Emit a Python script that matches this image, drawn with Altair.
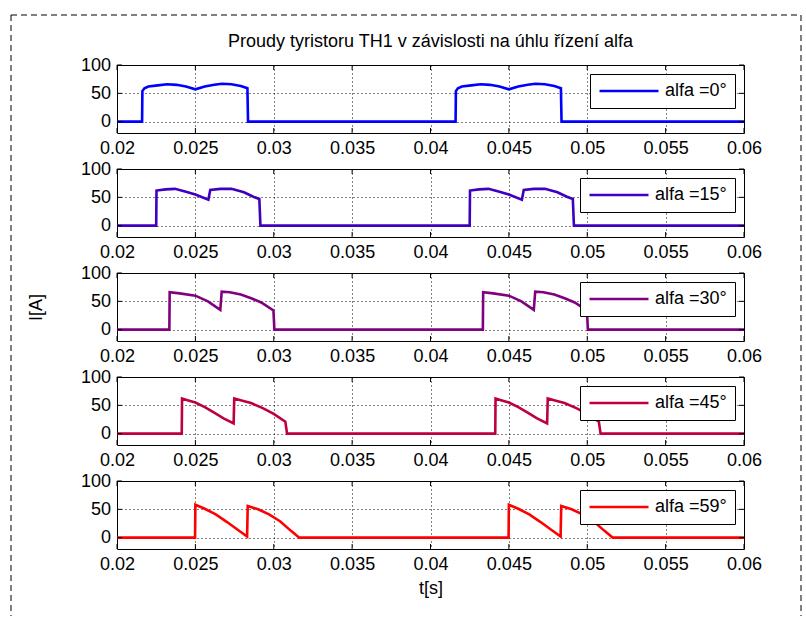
import altair as alt
import pandas as pd

FONT = "Liberation Sans"
TITLE = "Proudy tyristoru TH1 v závislosti na úhlu řízení alfa"
X_TICKS = [0.02, 0.025, 0.03, 0.035, 0.04, 0.045, 0.05, 0.055, 0.06]
Y_TICKS = [0, 50, 100]
ALFAS = [0, 15, 30, 45, 59]
COLORS = ["#0000ff", "#4000bf", "#800080", "#bf0040", "#ff0000"]

# alfa = 0
t_a0 = [0.02, 0.0216, 0.02162, 0.02175, 0.0220, 0.0226, 0.0232, 0.0238, 0.0244, 0.0250,
        0.0256, 0.0262, 0.0267, 0.0273, 0.0279, 0.02832, 0.02836,
        0.0416, 0.04162, 0.04175, 0.0420, 0.0426, 0.0432, 0.0438, 0.0444, 0.0450,
        0.0456, 0.0462, 0.0467, 0.0473, 0.0479, 0.04832, 0.04836, 0.06]
i_a0 = [0, 0, 54, 59, 62, 64, 66, 65, 62, 57, 62, 65, 67, 66, 63, 59, 0,
        0, 54, 59, 62, 64, 66, 65, 62, 57, 62, 65, 67, 66, 63, 59, 0, 0]
# alfa = 15
t_a15 = [0.02, 0.0225, 0.02252, 0.0231, 0.0237, 0.0244, 0.0250, 0.02583, 0.02595, 0.0266,
         0.0273, 0.0281, 0.0287, 0.02908, 0.02915,
         0.0425, 0.04252, 0.0431, 0.0437, 0.0444, 0.0450, 0.04583, 0.04595, 0.0466,
         0.0473, 0.0481, 0.0487, 0.04908, 0.04915, 0.06]
i_a15 = [0, 0, 62, 64, 65, 60, 55, 46, 63, 65, 65, 59, 51, 47, 0,
         0, 62, 64, 65, 60, 55, 46, 63, 65, 65, 59, 51, 47, 0, 0]
# alfa = 30
t_a30 = [0.02, 0.02334, 0.02336, 0.0240, 0.0250, 0.0258, 0.02659, 0.02668, 0.0272, 0.0279,
         0.0286, 0.0292, 0.02998, 0.03004,
         0.04334, 0.04336, 0.0440, 0.0450, 0.0458, 0.04659, 0.04668, 0.0472, 0.0479,
         0.0486, 0.0492, 0.04998, 0.05004, 0.06]
i_a30 = [0, 0, 66, 64, 60, 50, 35, 67, 66, 62, 55, 48, 34, 0,
         0, 66, 64, 60, 50, 35, 67, 66, 62, 55, 48, 34, 0, 0]
# alfa = 45
t_a45 = [0.02, 0.02413, 0.02415, 0.0245, 0.0250, 0.0256, 0.0262, 0.0268, 0.02744, 0.02748,
         0.0280, 0.02855, 0.0293, 0.0300, 0.03074, 0.03085,
         0.04413, 0.04415, 0.0445, 0.0450, 0.0456, 0.0462, 0.0468, 0.04744, 0.04748,
         0.0480, 0.04855, 0.0493, 0.0500, 0.05074, 0.05085, 0.06]
i_a45 = [0, 0, 62, 59, 55, 47, 37, 27, 18, 62, 58, 54, 45, 35, 21, 0,
         0, 62, 59, 55, 47, 37, 27, 18, 62, 58, 54, 45, 35, 21, 0, 0]
# alfa = 59
t_a59 = [0.02, 0.02498, 0.02500, 0.0256, 0.0263, 0.0270, 0.0277, 0.02830, 0.02834, 0.0290,
         0.0297, 0.0304, 0.0311, 0.03163,
         0.04498, 0.04500, 0.0456, 0.0463, 0.0470, 0.0477, 0.04830, 0.04834, 0.0490,
         0.0497, 0.0504, 0.0511, 0.05163, 0.06]
i_a59 = [0, 0, 58, 51, 41, 28, 14, 2, 56, 50, 41, 29, 12, 0,
         0, 58, 51, 41, 28, 14, 2, 56, 50, 41, 29, 12, 0, 0]

SERIES = [(t_a0, i_a0), (t_a15, i_a15), (t_a30, i_a30), (t_a45, i_a45), (t_a59, i_a59)]

W, H = 627, 68
xscale = alt.Scale(domain=[0.02, 0.06], nice=False, zero=False)
yscale = alt.Scale(domain=[-20, 100], nice=False, zero=False)
xt_df = pd.DataFrame({"t": X_TICKS})
yt_df = pd.DataFrame({"I": Y_TICKS})
one = pd.DataFrame({"d": [0]})


def panel(k):
    t_vals, i_vals = SERIES[k]
    label = f"alfa ={ALFAS[k]}°"
    df = pd.DataFrame({"t": t_vals, "I": i_vals, "s": [label] * len(t_vals)})
    x_axis = alt.Axis(values=X_TICKS, format="~g", title="t[s]" if k == 4 else None)
    y_axis = alt.Axis(values=Y_TICKS, title="I[A]" if k == 2 else None)
    X = alt.X("t:Q", scale=xscale, axis=x_axis)
    Y = alt.Y("I:Q", scale=yscale, axis=y_axis)
    line = alt.Chart(df).mark_line(strokeWidth=2.6).encode(
        x=X,
        y=Y,
        color=alt.Color(
            "s:N",
            scale=alt.Scale(domain=[label], range=[COLORS[k]]),
            legend=alt.Legend(
                orient="top-right", offset=9, title=None, symbolType="stroke",
                symbolSize=3481, symbolStrokeWidth=2.6, clipHeight=18, padding=8,
                labelOffset=5, labelFont=FONT, labelFontSize=18, labelColor="black",
                strokeColor="black", fillColor="white", cornerRadius=0,
            ),
        ),
    )
    xb = alt.Chart(xt_df).mark_rule(color="black").encode(
        x=X, y=alt.value(H), y2=alt.value(H - 5))
    xtp = alt.Chart(xt_df).mark_rule(color="black").encode(
        x=X, y=alt.value(0), y2=alt.value(5))
    yl = alt.Chart(yt_df).mark_rule(color="black").encode(
        y=Y, x=alt.value(0), x2=alt.value(5))
    yr = alt.Chart(yt_df).mark_rule(color="black").encode(
        y=Y, x=alt.value(W), x2=alt.value(W - 5))
    layers = [line, xb, xtp, yl, yr]
    props = dict(width=W, height=H)
    if k == 4:
        dash = dict(color="black", strokeDash=[6, 4], strokeWidth=1)
        layers += [
            alt.Chart(one).mark_rule(**dash).encode(
                x=alt.value(-106), y=alt.value(-466), y2=alt.value(135)),
            alt.Chart(one).mark_rule(**dash).encode(
                x=alt.value(-106), x2=alt.value(684), y=alt.value(-466)),
            alt.Chart(one).mark_rule(**dash).encode(
                x=alt.value(684), y=alt.value(-466), y2=alt.value(135)),
        ]
    if k == 0:
        props["title"] = alt.Title(TITLE, font=FONT, fontSize=18, fontWeight="normal",
                                   color="black", offset=5, anchor="middle", frame="group")
    return alt.layer(*layers).properties(**props)


chart = (
    alt.vconcat(*[panel(k) for k in range(5)], spacing=36, bounds="flush")
    .resolve_scale(color="independent")
    .properties(padding={"left": 10, "top": 14, "right": 0, "bottom": 0}, background="white")
    .configure_view(stroke="black", strokeWidth=1)
    .configure_axis(
        labelFont=FONT, labelFontSize=18, labelColor="black",
        titleFont=FONT, titleFontSize=18, titleFontWeight="normal", titleColor="black",
        grid=True, gridColor="black", gridDash=[1, 3], gridWidth=1, gridOpacity=1,
        domain=False, ticks=False, tickSize=0, labelPadding=6.5, labelFlush=False,
        labelOverlap=False,
    )
    .configure_axisX(titlePadding=6)
    .configure_axisY(titlePadding=35)
)

chart.save("out.html", embed_options={"renderer": "svg", "actions": False})
